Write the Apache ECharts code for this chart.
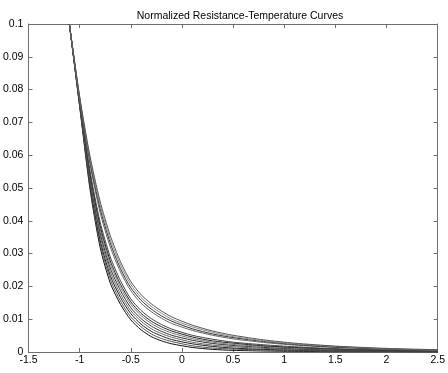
<!DOCTYPE html>
<html><head><meta charset="utf-8">
<script src="https://cdn.jsdelivr.net/npm/echarts@6/dist/echarts.min.js"></script>
<style>html,body{margin:0;padding:0;background:#fff}#c{width:448px;height:373px}</style>
</head><body><div id="c"></div>
<script>
const titleText = 'Normalized Resistance-Temperature Curves';
const xValues = [-1.1,-1.0,-0.9,-0.8,-0.7,-0.6,-0.5,-0.4,-0.3,-0.2,-0.1,0.1,0.3,0.5,0.8,1.1,1.5,2.0,2.5];
const curve01 = [0.1,0.0750,0.0500,0.0320,0.0210,0.0145,0.0098,0.0068,0.0047,0.0034,0.0025,0.0014,0.0008,0.0005,0.0003,0.0002,0.0001,0.0001,0.0000];
const curve02 = [0.1,0.0752,0.0508,0.0331,0.0222,0.0155,0.0107,0.0077,0.0055,0.0041,0.0032,0.0019,0.0012,0.0009,0.0006,0.0004,0.0002,0.0001,0.0001];
const curve03 = [0.1,0.0755,0.0516,0.0342,0.0233,0.0166,0.0117,0.0085,0.0063,0.0049,0.0038,0.0025,0.0017,0.0012,0.0008,0.0006,0.0004,0.0002,0.0001];
const curve04 = [0.1,0.0757,0.0524,0.0354,0.0245,0.0176,0.0126,0.0094,0.0071,0.0056,0.0045,0.0030,0.0021,0.0016,0.0011,0.0008,0.0005,0.0003,0.0002];
const curve05 = [0.1,0.0760,0.0532,0.0365,0.0256,0.0187,0.0135,0.0102,0.0079,0.0063,0.0051,0.0036,0.0026,0.0020,0.0014,0.0010,0.0006,0.0004,0.0002];
const curve06 = [0.1,0.0762,0.0540,0.0376,0.0268,0.0197,0.0145,0.0111,0.0087,0.0070,0.0058,0.0041,0.0030,0.0023,0.0017,0.0012,0.0008,0.0005,0.0003];
const curve07 = [0.1,0.0764,0.0547,0.0386,0.0278,0.0206,0.0153,0.0118,0.0094,0.0077,0.0064,0.0046,0.0034,0.0027,0.0019,0.0014,0.0009,0.0005,0.0003];
const curve08 = [0.1,0.0767,0.0555,0.0397,0.0290,0.0217,0.0162,0.0127,0.0102,0.0084,0.0070,0.0051,0.0039,0.0030,0.0022,0.0016,0.0010,0.0006,0.0004];
const curve09 = [0.1,0.0773,0.0576,0.0426,0.0320,0.0244,0.0187,0.0149,0.0123,0.0103,0.0087,0.0066,0.0051,0.0040,0.0029,0.0021,0.0014,0.0009,0.0005];
const curve10 = [0.1,0.0775,0.0584,0.0438,0.0332,0.0254,0.0196,0.0158,0.0131,0.0110,0.0094,0.0071,0.0055,0.0044,0.0032,0.0023,0.0015,0.0009,0.0006];
const curve11 = [0.1,0.0778,0.0592,0.0449,0.0343,0.0265,0.0206,0.0166,0.0139,0.0118,0.0100,0.0077,0.0060,0.0047,0.0034,0.0025,0.0017,0.0010,0.0006];
const curve12 = [0.1,0.0780,0.0600,0.0460,0.0355,0.0275,0.0215,0.0175,0.0147,0.0125,0.0107,0.0082,0.0064,0.0051,0.0037,0.0027,0.0018,0.0011,0.0007];
const curves = [curve01,curve02,curve03,curve04,curve05,curve06,curve07,curve08,curve09,curve10,curve11,curve12];
const lineColors = ['#111','#555','#222','#666','#333','#777','#222','#444','#666','#333','#888','#555'];

const chart = echarts.init(document.getElementById('c'), null, {renderer:'canvas'});
const axisCol = '#6e6e6e';
const font = 'Arial, "Liberation Sans", sans-serif';
function ax(extra){
  return Object.assign({
    axisLine:{show:true, onZero:false, lineStyle:{color:axisCol, width:1}},
    axisTick:{show:true, inside:true, length:4, lineStyle:{color:axisCol}},
    splitLine:{show:false}
  }, extra);
}
chart.setOption({
  animation:false,
  backgroundColor:'#fff',
  title:{text:titleText, left:235, top:6, textAlign:'center',
    textStyle:{fontFamily:font, fontSize:10.5, fontWeight:'normal', color:'#000'}},
  grid:{left:26, right:4, top:24, bottom:21, containLabel:false},
  xAxis:[
    ax({type:'value', min:-1.5, max:2.5, interval:0.5, position:'bottom',
      axisLabel:{fontFamily:font, fontSize:10.5, color:'#000', margin:3, showMaxLabel:true, showMinLabel:true}}),
    ax({type:'value', min:-1.5, max:2.5, interval:0.5, position:'top', axisLabel:{show:false}})
  ],
  yAxis:[
    ax({type:'value', min:0, max:0.1, interval:0.01, position:'left',
      axisLabel:{fontFamily:font, fontSize:10.5, color:'#000', margin:5}}),
    ax({type:'value', min:0, max:0.1, interval:0.01, position:'right', axisLabel:{show:false}})
  ],
  series: curves.map((c,i)=>({
    type:'line', xAxisIndex:0, yAxisIndex:0, showSymbol:false, symbol:'none',
    smooth:0.25,
    lineStyle:{color:lineColors[i], width:1},
    data: xValues.map((x,j)=>[x, c[j]])
  }))
});
</script></body></html>
